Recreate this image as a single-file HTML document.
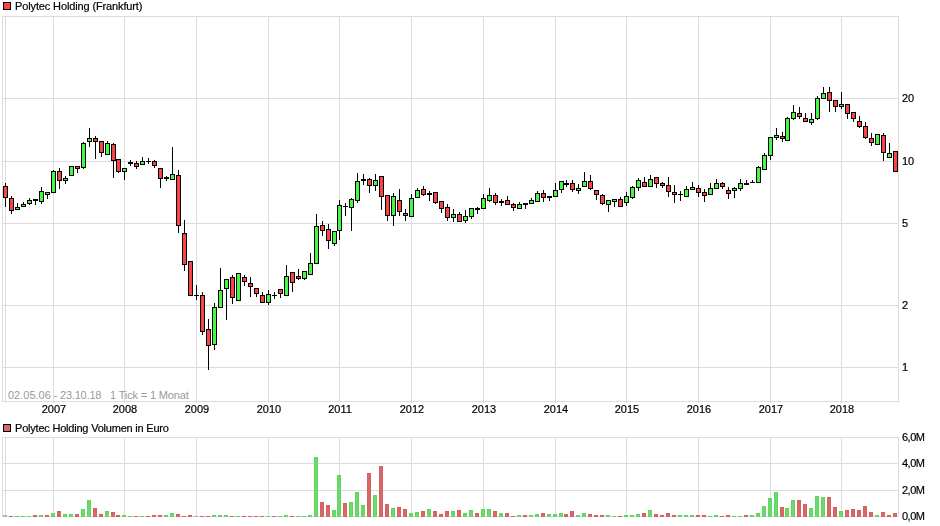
<!DOCTYPE html>
<html><head><meta charset="utf-8"><style>
html,body{margin:0;padding:0;background:#fff;}
body{width:940px;height:526px;position:relative;overflow:hidden;font-family:"Liberation Sans",Arial,sans-serif;}
svg{position:absolute;left:0;top:0;shape-rendering:crispEdges;}
.t{position:absolute;font-size:11px;line-height:13px;color:#000;white-space:pre;}
.yl{position:absolute;left:902px;font-size:11px;line-height:13px;color:#000;white-space:pre;}
.xl{position:absolute;top:403px;font-size:11px;line-height:13px;color:#000;white-space:pre;width:40px;text-align:center;}
.g,.yl,.xl{will-change:transform;-webkit-text-stroke:0.2px #000;}
.sq{position:absolute;width:6px;height:6px;border:1px solid #000;}
</style></head><body>
<svg width="940" height="526" viewBox="0 0 940 526">
<rect x="2" y="16" width="897" height="1" fill="#dcdcdc"/>
<rect x="2" y="401" width="897" height="1" fill="#dcdcdc"/>
<rect x="2" y="16" width="1" height="386" fill="#dcdcdc"/>
<rect x="898" y="16" width="1" height="386" fill="#dcdcdc"/>
<rect x="5" y="16" width="1" height="387" fill="#dcdcdc"/>
<rect x="53" y="16" width="1" height="387" fill="#dcdcdc"/>
<rect x="124" y="16" width="1" height="387" fill="#dcdcdc"/>
<rect x="196" y="16" width="1" height="387" fill="#dcdcdc"/>
<rect x="268" y="16" width="1" height="387" fill="#dcdcdc"/>
<rect x="339" y="16" width="1" height="387" fill="#dcdcdc"/>
<rect x="411" y="16" width="1" height="387" fill="#dcdcdc"/>
<rect x="483" y="16" width="1" height="387" fill="#dcdcdc"/>
<rect x="555" y="16" width="1" height="387" fill="#dcdcdc"/>
<rect x="626" y="16" width="1" height="387" fill="#dcdcdc"/>
<rect x="698" y="16" width="1" height="387" fill="#dcdcdc"/>
<rect x="770" y="16" width="1" height="387" fill="#dcdcdc"/>
<rect x="841" y="16" width="1" height="387" fill="#dcdcdc"/>
<rect x="2" y="98" width="897" height="1" fill="#dcdcdc"/>
<rect x="2" y="161" width="897" height="1" fill="#dcdcdc"/>
<rect x="2" y="223" width="897" height="1" fill="#dcdcdc"/>
<rect x="2" y="305" width="897" height="1" fill="#dcdcdc"/>
<rect x="2" y="367" width="897" height="1" fill="#dcdcdc"/>
<rect x="2" y="437" width="897" height="1" fill="#dcdcdc"/>
<rect x="2" y="516" width="897" height="1" fill="#dcdcdc"/>
<rect x="2" y="437" width="1" height="80" fill="#dcdcdc"/>
<rect x="898" y="437" width="1" height="80" fill="#dcdcdc"/>
<rect x="5" y="437" width="1" height="80" fill="#dcdcdc"/>
<rect x="53" y="437" width="1" height="80" fill="#dcdcdc"/>
<rect x="124" y="437" width="1" height="80" fill="#dcdcdc"/>
<rect x="196" y="437" width="1" height="80" fill="#dcdcdc"/>
<rect x="268" y="437" width="1" height="80" fill="#dcdcdc"/>
<rect x="339" y="437" width="1" height="80" fill="#dcdcdc"/>
<rect x="411" y="437" width="1" height="80" fill="#dcdcdc"/>
<rect x="483" y="437" width="1" height="80" fill="#dcdcdc"/>
<rect x="555" y="437" width="1" height="80" fill="#dcdcdc"/>
<rect x="626" y="437" width="1" height="80" fill="#dcdcdc"/>
<rect x="698" y="437" width="1" height="80" fill="#dcdcdc"/>
<rect x="770" y="437" width="1" height="80" fill="#dcdcdc"/>
<rect x="841" y="437" width="1" height="80" fill="#dcdcdc"/>
<rect x="2" y="463" width="897" height="1" fill="#dcdcdc"/>
<rect x="2" y="490" width="897" height="1" fill="#dcdcdc"/>
<rect x="5" y="183" width="1" height="3" fill="#000"/>
<rect x="5" y="198" width="1" height="9" fill="#000"/>
<rect x="3" y="186" width="5" height="12" fill="#000"/>
<rect x="4" y="187" width="3" height="10" fill="#f84444"/>
<rect x="11" y="196" width="1" height="2" fill="#000"/>
<rect x="11" y="211" width="1" height="3" fill="#000"/>
<rect x="9" y="198" width="5" height="13" fill="#000"/>
<rect x="10" y="199" width="3" height="11" fill="#f84444"/>
<rect x="17" y="203" width="1" height="4" fill="#000"/>
<rect x="15" y="207" width="5" height="3" fill="#000"/>
<rect x="16" y="208" width="3" height="1" fill="#44f844"/>
<rect x="23" y="202" width="1" height="2" fill="#000"/>
<rect x="21" y="204" width="5" height="3" fill="#000"/>
<rect x="22" y="205" width="3" height="1" fill="#44f844"/>
<rect x="29" y="198" width="1" height="2" fill="#000"/>
<rect x="29" y="204" width="1" height="1" fill="#000"/>
<rect x="27" y="200" width="5" height="4" fill="#000"/>
<rect x="28" y="201" width="3" height="2" fill="#44f844"/>
<rect x="35" y="201" width="1" height="4" fill="#000"/>
<rect x="33" y="199" width="5" height="2" fill="#000"/>
<rect x="41" y="187" width="1" height="4" fill="#000"/>
<rect x="41" y="202" width="1" height="2" fill="#000"/>
<rect x="39" y="191" width="5" height="11" fill="#000"/>
<rect x="40" y="192" width="3" height="9" fill="#44f844"/>
<rect x="47" y="195" width="1" height="4" fill="#000"/>
<rect x="45" y="192" width="5" height="3" fill="#000"/>
<rect x="46" y="193" width="3" height="1" fill="#44f844"/>
<rect x="53" y="170" width="1" height="1" fill="#000"/>
<rect x="51" y="171" width="5" height="22" fill="#000"/>
<rect x="52" y="172" width="3" height="20" fill="#44f844"/>
<rect x="59" y="168" width="1" height="3" fill="#000"/>
<rect x="59" y="181" width="1" height="8" fill="#000"/>
<rect x="57" y="171" width="5" height="10" fill="#000"/>
<rect x="58" y="172" width="3" height="8" fill="#f84444"/>
<rect x="65" y="176" width="1" height="2" fill="#000"/>
<rect x="65" y="181" width="1" height="3" fill="#000"/>
<rect x="63" y="178" width="5" height="3" fill="#000"/>
<rect x="64" y="179" width="3" height="1" fill="#44f844"/>
<rect x="69" y="166" width="5" height="10" fill="#000"/>
<rect x="70" y="167" width="3" height="8" fill="#44f844"/>
<rect x="77" y="169" width="1" height="4" fill="#000"/>
<rect x="75" y="166" width="5" height="3" fill="#000"/>
<rect x="76" y="167" width="3" height="1" fill="#f84444"/>
<rect x="83" y="142" width="1" height="1" fill="#000"/>
<rect x="83" y="168" width="1" height="1" fill="#000"/>
<rect x="81" y="143" width="5" height="25" fill="#000"/>
<rect x="82" y="144" width="3" height="23" fill="#44f844"/>
<rect x="89" y="128" width="1" height="10" fill="#000"/>
<rect x="89" y="142" width="1" height="5" fill="#000"/>
<rect x="87" y="138" width="5" height="4" fill="#000"/>
<rect x="88" y="139" width="3" height="2" fill="#44f844"/>
<rect x="95" y="136" width="1" height="2" fill="#000"/>
<rect x="95" y="142" width="1" height="17" fill="#000"/>
<rect x="93" y="138" width="5" height="4" fill="#000"/>
<rect x="94" y="139" width="3" height="2" fill="#f84444"/>
<rect x="101" y="153" width="1" height="4" fill="#000"/>
<rect x="99" y="141" width="5" height="12" fill="#000"/>
<rect x="100" y="142" width="3" height="10" fill="#f84444"/>
<rect x="107" y="141" width="1" height="2" fill="#000"/>
<rect x="105" y="143" width="5" height="12" fill="#000"/>
<rect x="106" y="144" width="3" height="10" fill="#44f844"/>
<rect x="113" y="143" width="1" height="1" fill="#000"/>
<rect x="113" y="161" width="1" height="17" fill="#000"/>
<rect x="111" y="144" width="5" height="17" fill="#000"/>
<rect x="112" y="145" width="3" height="15" fill="#f84444"/>
<rect x="118" y="172" width="1" height="1" fill="#000"/>
<rect x="116" y="159" width="5" height="13" fill="#000"/>
<rect x="117" y="160" width="3" height="11" fill="#f84444"/>
<rect x="124" y="172" width="1" height="8" fill="#000"/>
<rect x="122" y="168" width="5" height="4" fill="#000"/>
<rect x="123" y="169" width="3" height="2" fill="#44f844"/>
<rect x="130" y="160" width="1" height="2" fill="#000"/>
<rect x="130" y="164" width="1" height="2" fill="#000"/>
<rect x="128" y="162" width="5" height="2" fill="#000"/>
<rect x="136" y="161" width="1" height="2" fill="#000"/>
<rect x="136" y="167" width="1" height="2" fill="#000"/>
<rect x="134" y="163" width="5" height="4" fill="#000"/>
<rect x="135" y="164" width="3" height="2" fill="#f84444"/>
<rect x="142" y="157" width="1" height="4" fill="#000"/>
<rect x="140" y="161" width="5" height="4" fill="#000"/>
<rect x="141" y="162" width="3" height="2" fill="#44f844"/>
<rect x="148" y="158" width="1" height="3" fill="#000"/>
<rect x="148" y="162" width="1" height="2" fill="#000"/>
<rect x="146" y="161" width="5" height="1" fill="#000"/>
<rect x="154" y="160" width="1" height="1" fill="#000"/>
<rect x="154" y="166" width="1" height="2" fill="#000"/>
<rect x="152" y="161" width="5" height="5" fill="#000"/>
<rect x="153" y="162" width="3" height="3" fill="#f84444"/>
<rect x="160" y="179" width="1" height="9" fill="#000"/>
<rect x="158" y="168" width="5" height="11" fill="#000"/>
<rect x="159" y="169" width="3" height="9" fill="#f84444"/>
<rect x="166" y="176" width="1" height="1" fill="#000"/>
<rect x="166" y="179" width="1" height="2" fill="#000"/>
<rect x="164" y="177" width="5" height="2" fill="#000"/>
<rect x="172" y="147" width="1" height="27" fill="#000"/>
<rect x="170" y="174" width="5" height="6" fill="#000"/>
<rect x="171" y="175" width="3" height="4" fill="#44f844"/>
<rect x="178" y="170" width="1" height="5" fill="#000"/>
<rect x="178" y="226" width="1" height="7" fill="#000"/>
<rect x="176" y="175" width="5" height="51" fill="#000"/>
<rect x="177" y="176" width="3" height="49" fill="#f84444"/>
<rect x="184" y="220" width="1" height="13" fill="#000"/>
<rect x="184" y="265" width="1" height="6" fill="#000"/>
<rect x="182" y="233" width="5" height="32" fill="#000"/>
<rect x="183" y="234" width="3" height="30" fill="#f84444"/>
<rect x="188" y="261" width="5" height="35" fill="#000"/>
<rect x="189" y="262" width="3" height="33" fill="#f84444"/>
<rect x="196" y="285" width="1" height="10" fill="#000"/>
<rect x="196" y="296" width="1" height="4" fill="#000"/>
<rect x="194" y="295" width="5" height="1" fill="#000"/>
<rect x="202" y="292" width="1" height="3" fill="#000"/>
<rect x="202" y="332" width="1" height="3" fill="#000"/>
<rect x="200" y="295" width="5" height="37" fill="#000"/>
<rect x="201" y="296" width="3" height="35" fill="#f84444"/>
<rect x="208" y="319" width="1" height="10" fill="#000"/>
<rect x="208" y="346" width="1" height="24" fill="#000"/>
<rect x="206" y="329" width="5" height="17" fill="#000"/>
<rect x="207" y="330" width="3" height="15" fill="#f84444"/>
<rect x="214" y="303" width="1" height="4" fill="#000"/>
<rect x="214" y="345" width="1" height="5" fill="#000"/>
<rect x="212" y="307" width="5" height="38" fill="#000"/>
<rect x="213" y="308" width="3" height="36" fill="#44f844"/>
<rect x="220" y="268" width="1" height="22" fill="#000"/>
<rect x="218" y="290" width="5" height="18" fill="#000"/>
<rect x="219" y="291" width="3" height="16" fill="#44f844"/>
<rect x="226" y="289" width="1" height="31" fill="#000"/>
<rect x="224" y="279" width="5" height="10" fill="#000"/>
<rect x="225" y="280" width="3" height="8" fill="#44f844"/>
<rect x="232" y="275" width="1" height="2" fill="#000"/>
<rect x="232" y="298" width="1" height="6" fill="#000"/>
<rect x="230" y="277" width="5" height="21" fill="#000"/>
<rect x="231" y="278" width="3" height="19" fill="#f84444"/>
<rect x="236" y="273" width="5" height="28" fill="#000"/>
<rect x="237" y="274" width="3" height="26" fill="#44f844"/>
<rect x="244" y="275" width="1" height="2" fill="#000"/>
<rect x="244" y="282" width="1" height="4" fill="#000"/>
<rect x="242" y="277" width="5" height="5" fill="#000"/>
<rect x="243" y="278" width="3" height="3" fill="#f84444"/>
<rect x="250" y="277" width="1" height="6" fill="#000"/>
<rect x="250" y="287" width="1" height="10" fill="#000"/>
<rect x="248" y="283" width="5" height="4" fill="#000"/>
<rect x="249" y="284" width="3" height="2" fill="#f84444"/>
<rect x="256" y="294" width="1" height="3" fill="#000"/>
<rect x="254" y="288" width="5" height="6" fill="#000"/>
<rect x="255" y="289" width="3" height="4" fill="#f84444"/>
<rect x="262" y="292" width="1" height="3" fill="#000"/>
<rect x="260" y="295" width="5" height="8" fill="#000"/>
<rect x="261" y="296" width="3" height="6" fill="#f84444"/>
<rect x="268" y="290" width="1" height="4" fill="#000"/>
<rect x="268" y="303" width="1" height="2" fill="#000"/>
<rect x="266" y="294" width="5" height="9" fill="#000"/>
<rect x="267" y="295" width="3" height="7" fill="#44f844"/>
<rect x="274" y="292" width="1" height="3" fill="#000"/>
<rect x="274" y="296" width="1" height="3" fill="#000"/>
<rect x="272" y="295" width="5" height="1" fill="#000"/>
<rect x="280" y="294" width="1" height="4" fill="#000"/>
<rect x="278" y="289" width="5" height="5" fill="#000"/>
<rect x="279" y="290" width="3" height="3" fill="#f84444"/>
<rect x="286" y="265" width="1" height="11" fill="#000"/>
<rect x="284" y="276" width="5" height="20" fill="#000"/>
<rect x="285" y="277" width="3" height="18" fill="#44f844"/>
<rect x="292" y="283" width="1" height="9" fill="#000"/>
<rect x="290" y="272" width="5" height="11" fill="#000"/>
<rect x="291" y="273" width="3" height="9" fill="#f84444"/>
<rect x="298" y="269" width="1" height="7" fill="#000"/>
<rect x="298" y="279" width="1" height="1" fill="#000"/>
<rect x="296" y="276" width="5" height="3" fill="#000"/>
<rect x="297" y="277" width="3" height="1" fill="#f84444"/>
<rect x="304" y="279" width="1" height="1" fill="#000"/>
<rect x="302" y="271" width="5" height="8" fill="#000"/>
<rect x="303" y="272" width="3" height="6" fill="#44f844"/>
<rect x="310" y="253" width="1" height="10" fill="#000"/>
<rect x="308" y="263" width="5" height="12" fill="#000"/>
<rect x="309" y="264" width="3" height="10" fill="#44f844"/>
<rect x="316" y="214" width="1" height="12" fill="#000"/>
<rect x="314" y="226" width="5" height="38" fill="#000"/>
<rect x="315" y="227" width="3" height="36" fill="#44f844"/>
<rect x="322" y="221" width="1" height="4" fill="#000"/>
<rect x="322" y="231" width="1" height="5" fill="#000"/>
<rect x="320" y="225" width="5" height="6" fill="#000"/>
<rect x="321" y="226" width="3" height="4" fill="#f84444"/>
<rect x="328" y="224" width="1" height="5" fill="#000"/>
<rect x="328" y="241" width="1" height="8" fill="#000"/>
<rect x="326" y="229" width="5" height="12" fill="#000"/>
<rect x="327" y="230" width="3" height="10" fill="#f84444"/>
<rect x="334" y="244" width="1" height="2" fill="#000"/>
<rect x="332" y="231" width="5" height="13" fill="#000"/>
<rect x="333" y="232" width="3" height="11" fill="#44f844"/>
<rect x="339" y="200" width="1" height="5" fill="#000"/>
<rect x="339" y="231" width="1" height="9" fill="#000"/>
<rect x="337" y="205" width="5" height="26" fill="#000"/>
<rect x="338" y="206" width="3" height="24" fill="#44f844"/>
<rect x="345" y="203" width="1" height="3" fill="#000"/>
<rect x="345" y="207" width="1" height="9" fill="#000"/>
<rect x="343" y="206" width="5" height="1" fill="#000"/>
<rect x="351" y="198" width="1" height="1" fill="#000"/>
<rect x="351" y="208" width="1" height="23" fill="#000"/>
<rect x="349" y="199" width="5" height="9" fill="#000"/>
<rect x="350" y="200" width="3" height="7" fill="#44f844"/>
<rect x="357" y="173" width="1" height="8" fill="#000"/>
<rect x="357" y="201" width="1" height="2" fill="#000"/>
<rect x="355" y="181" width="5" height="20" fill="#000"/>
<rect x="356" y="182" width="3" height="18" fill="#44f844"/>
<rect x="363" y="174" width="1" height="5" fill="#000"/>
<rect x="363" y="181" width="1" height="4" fill="#000"/>
<rect x="361" y="179" width="5" height="2" fill="#000"/>
<rect x="369" y="178" width="1" height="1" fill="#000"/>
<rect x="369" y="186" width="1" height="7" fill="#000"/>
<rect x="367" y="179" width="5" height="7" fill="#000"/>
<rect x="368" y="180" width="3" height="5" fill="#f84444"/>
<rect x="375" y="174" width="1" height="6" fill="#000"/>
<rect x="375" y="186" width="1" height="5" fill="#000"/>
<rect x="373" y="180" width="5" height="6" fill="#000"/>
<rect x="374" y="181" width="3" height="4" fill="#44f844"/>
<rect x="381" y="197" width="1" height="13" fill="#000"/>
<rect x="379" y="176" width="5" height="21" fill="#000"/>
<rect x="380" y="177" width="3" height="19" fill="#f84444"/>
<rect x="387" y="216" width="1" height="5" fill="#000"/>
<rect x="385" y="195" width="5" height="21" fill="#000"/>
<rect x="386" y="196" width="3" height="19" fill="#f84444"/>
<rect x="393" y="193" width="1" height="3" fill="#000"/>
<rect x="393" y="216" width="1" height="10" fill="#000"/>
<rect x="391" y="196" width="5" height="20" fill="#000"/>
<rect x="392" y="197" width="3" height="18" fill="#44f844"/>
<rect x="399" y="189" width="1" height="11" fill="#000"/>
<rect x="399" y="212" width="1" height="4" fill="#000"/>
<rect x="397" y="200" width="5" height="12" fill="#000"/>
<rect x="398" y="201" width="3" height="10" fill="#f84444"/>
<rect x="405" y="209" width="1" height="4" fill="#000"/>
<rect x="405" y="216" width="1" height="5" fill="#000"/>
<rect x="403" y="213" width="5" height="3" fill="#000"/>
<rect x="404" y="214" width="3" height="1" fill="#f84444"/>
<rect x="411" y="194" width="1" height="4" fill="#000"/>
<rect x="409" y="198" width="5" height="19" fill="#000"/>
<rect x="410" y="199" width="3" height="17" fill="#44f844"/>
<rect x="417" y="188" width="1" height="2" fill="#000"/>
<rect x="415" y="190" width="5" height="8" fill="#000"/>
<rect x="416" y="191" width="3" height="6" fill="#44f844"/>
<rect x="423" y="186" width="1" height="3" fill="#000"/>
<rect x="423" y="195" width="1" height="1" fill="#000"/>
<rect x="421" y="189" width="5" height="6" fill="#000"/>
<rect x="422" y="190" width="3" height="4" fill="#f84444"/>
<rect x="429" y="191" width="1" height="2" fill="#000"/>
<rect x="429" y="195" width="1" height="6" fill="#000"/>
<rect x="427" y="193" width="5" height="2" fill="#000"/>
<rect x="435" y="203" width="1" height="1" fill="#000"/>
<rect x="433" y="192" width="5" height="11" fill="#000"/>
<rect x="434" y="193" width="3" height="9" fill="#f84444"/>
<rect x="441" y="209" width="1" height="4" fill="#000"/>
<rect x="439" y="201" width="5" height="8" fill="#000"/>
<rect x="440" y="202" width="3" height="6" fill="#f84444"/>
<rect x="447" y="204" width="1" height="3" fill="#000"/>
<rect x="447" y="218" width="1" height="3" fill="#000"/>
<rect x="445" y="207" width="5" height="11" fill="#000"/>
<rect x="446" y="208" width="3" height="9" fill="#f84444"/>
<rect x="453" y="209" width="1" height="5" fill="#000"/>
<rect x="453" y="218" width="1" height="4" fill="#000"/>
<rect x="451" y="214" width="5" height="4" fill="#000"/>
<rect x="452" y="215" width="3" height="2" fill="#44f844"/>
<rect x="459" y="212" width="1" height="2" fill="#000"/>
<rect x="457" y="214" width="5" height="8" fill="#000"/>
<rect x="458" y="215" width="3" height="6" fill="#f84444"/>
<rect x="465" y="210" width="1" height="6" fill="#000"/>
<rect x="465" y="221" width="1" height="2" fill="#000"/>
<rect x="463" y="216" width="5" height="5" fill="#000"/>
<rect x="464" y="217" width="3" height="3" fill="#44f844"/>
<rect x="471" y="217" width="1" height="2" fill="#000"/>
<rect x="469" y="208" width="5" height="9" fill="#000"/>
<rect x="470" y="209" width="3" height="7" fill="#44f844"/>
<rect x="477" y="207" width="1" height="1" fill="#000"/>
<rect x="477" y="210" width="1" height="4" fill="#000"/>
<rect x="475" y="208" width="5" height="2" fill="#000"/>
<rect x="483" y="194" width="1" height="4" fill="#000"/>
<rect x="481" y="198" width="5" height="11" fill="#000"/>
<rect x="482" y="199" width="3" height="9" fill="#44f844"/>
<rect x="489" y="188" width="1" height="7" fill="#000"/>
<rect x="489" y="201" width="1" height="1" fill="#000"/>
<rect x="487" y="195" width="5" height="6" fill="#000"/>
<rect x="488" y="196" width="3" height="4" fill="#44f844"/>
<rect x="495" y="193" width="1" height="2" fill="#000"/>
<rect x="495" y="203" width="1" height="2" fill="#000"/>
<rect x="493" y="195" width="5" height="8" fill="#000"/>
<rect x="494" y="196" width="3" height="6" fill="#f84444"/>
<rect x="501" y="199" width="1" height="2" fill="#000"/>
<rect x="501" y="203" width="1" height="3" fill="#000"/>
<rect x="499" y="201" width="5" height="2" fill="#000"/>
<rect x="507" y="196" width="1" height="4" fill="#000"/>
<rect x="505" y="200" width="5" height="5" fill="#000"/>
<rect x="506" y="201" width="3" height="3" fill="#f84444"/>
<rect x="513" y="203" width="1" height="1" fill="#000"/>
<rect x="513" y="208" width="1" height="3" fill="#000"/>
<rect x="511" y="204" width="5" height="4" fill="#000"/>
<rect x="512" y="205" width="3" height="2" fill="#f84444"/>
<rect x="519" y="202" width="1" height="2" fill="#000"/>
<rect x="517" y="204" width="5" height="5" fill="#000"/>
<rect x="518" y="205" width="3" height="3" fill="#44f844"/>
<rect x="525" y="205" width="1" height="4" fill="#000"/>
<rect x="523" y="203" width="5" height="2" fill="#000"/>
<rect x="531" y="198" width="1" height="2" fill="#000"/>
<rect x="529" y="200" width="5" height="4" fill="#000"/>
<rect x="530" y="201" width="3" height="2" fill="#44f844"/>
<rect x="537" y="191" width="1" height="2" fill="#000"/>
<rect x="535" y="193" width="5" height="9" fill="#000"/>
<rect x="536" y="194" width="3" height="7" fill="#44f844"/>
<rect x="543" y="190" width="1" height="3" fill="#000"/>
<rect x="543" y="198" width="1" height="4" fill="#000"/>
<rect x="541" y="193" width="5" height="5" fill="#000"/>
<rect x="542" y="194" width="3" height="3" fill="#f84444"/>
<rect x="549" y="198" width="1" height="3" fill="#000"/>
<rect x="547" y="196" width="5" height="2" fill="#000"/>
<rect x="555" y="183" width="1" height="7" fill="#000"/>
<rect x="553" y="190" width="5" height="7" fill="#000"/>
<rect x="554" y="191" width="3" height="5" fill="#44f844"/>
<rect x="561" y="190" width="1" height="3" fill="#000"/>
<rect x="559" y="181" width="5" height="9" fill="#000"/>
<rect x="560" y="182" width="3" height="7" fill="#44f844"/>
<rect x="566" y="180" width="1" height="3" fill="#000"/>
<rect x="566" y="185" width="1" height="2" fill="#000"/>
<rect x="564" y="183" width="5" height="2" fill="#000"/>
<rect x="572" y="180" width="1" height="3" fill="#000"/>
<rect x="572" y="190" width="1" height="2" fill="#000"/>
<rect x="570" y="183" width="5" height="7" fill="#000"/>
<rect x="571" y="184" width="3" height="5" fill="#f84444"/>
<rect x="578" y="184" width="1" height="4" fill="#000"/>
<rect x="578" y="191" width="1" height="3" fill="#000"/>
<rect x="576" y="188" width="5" height="3" fill="#000"/>
<rect x="577" y="189" width="3" height="1" fill="#44f844"/>
<rect x="584" y="172" width="1" height="9" fill="#000"/>
<rect x="582" y="181" width="5" height="6" fill="#000"/>
<rect x="583" y="182" width="3" height="4" fill="#44f844"/>
<rect x="590" y="175" width="1" height="6" fill="#000"/>
<rect x="590" y="189" width="1" height="1" fill="#000"/>
<rect x="588" y="181" width="5" height="8" fill="#000"/>
<rect x="589" y="182" width="3" height="6" fill="#f84444"/>
<rect x="596" y="195" width="1" height="5" fill="#000"/>
<rect x="594" y="190" width="5" height="5" fill="#000"/>
<rect x="595" y="191" width="3" height="3" fill="#f84444"/>
<rect x="602" y="194" width="1" height="1" fill="#000"/>
<rect x="602" y="204" width="1" height="1" fill="#000"/>
<rect x="600" y="195" width="5" height="9" fill="#000"/>
<rect x="601" y="196" width="3" height="7" fill="#f84444"/>
<rect x="608" y="205" width="1" height="7" fill="#000"/>
<rect x="606" y="200" width="5" height="5" fill="#000"/>
<rect x="607" y="201" width="3" height="3" fill="#44f844"/>
<rect x="614" y="202" width="1" height="5" fill="#000"/>
<rect x="612" y="199" width="5" height="3" fill="#000"/>
<rect x="613" y="200" width="3" height="1" fill="#44f844"/>
<rect x="620" y="197" width="1" height="2" fill="#000"/>
<rect x="618" y="199" width="5" height="8" fill="#000"/>
<rect x="619" y="200" width="3" height="6" fill="#f84444"/>
<rect x="626" y="192" width="1" height="4" fill="#000"/>
<rect x="626" y="203" width="1" height="3" fill="#000"/>
<rect x="624" y="196" width="5" height="7" fill="#000"/>
<rect x="625" y="197" width="3" height="5" fill="#44f844"/>
<rect x="632" y="186" width="1" height="1" fill="#000"/>
<rect x="632" y="198" width="1" height="1" fill="#000"/>
<rect x="630" y="187" width="5" height="11" fill="#000"/>
<rect x="631" y="188" width="3" height="9" fill="#44f844"/>
<rect x="638" y="178" width="1" height="2" fill="#000"/>
<rect x="638" y="188" width="1" height="3" fill="#000"/>
<rect x="636" y="180" width="5" height="8" fill="#000"/>
<rect x="637" y="181" width="3" height="6" fill="#44f844"/>
<rect x="644" y="177" width="1" height="5" fill="#000"/>
<rect x="642" y="182" width="5" height="5" fill="#000"/>
<rect x="643" y="183" width="3" height="3" fill="#f84444"/>
<rect x="650" y="175" width="1" height="4" fill="#000"/>
<rect x="648" y="179" width="5" height="8" fill="#000"/>
<rect x="649" y="180" width="3" height="6" fill="#44f844"/>
<rect x="656" y="184" width="1" height="4" fill="#000"/>
<rect x="654" y="177" width="5" height="7" fill="#000"/>
<rect x="655" y="178" width="3" height="5" fill="#f84444"/>
<rect x="662" y="182" width="1" height="1" fill="#000"/>
<rect x="662" y="186" width="1" height="2" fill="#000"/>
<rect x="660" y="183" width="5" height="3" fill="#000"/>
<rect x="661" y="184" width="3" height="1" fill="#f84444"/>
<rect x="668" y="177" width="1" height="8" fill="#000"/>
<rect x="668" y="192" width="1" height="5" fill="#000"/>
<rect x="666" y="185" width="5" height="7" fill="#000"/>
<rect x="667" y="186" width="3" height="5" fill="#f84444"/>
<rect x="674" y="185" width="1" height="7" fill="#000"/>
<rect x="674" y="195" width="1" height="8" fill="#000"/>
<rect x="672" y="192" width="5" height="3" fill="#000"/>
<rect x="673" y="193" width="3" height="1" fill="#f84444"/>
<rect x="680" y="191" width="1" height="3" fill="#000"/>
<rect x="680" y="195" width="1" height="6" fill="#000"/>
<rect x="678" y="194" width="5" height="1" fill="#000"/>
<rect x="686" y="186" width="1" height="3" fill="#000"/>
<rect x="684" y="189" width="5" height="8" fill="#000"/>
<rect x="685" y="190" width="3" height="6" fill="#44f844"/>
<rect x="692" y="182" width="1" height="5" fill="#000"/>
<rect x="690" y="187" width="5" height="3" fill="#000"/>
<rect x="691" y="188" width="3" height="1" fill="#44f844"/>
<rect x="698" y="185" width="1" height="3" fill="#000"/>
<rect x="698" y="193" width="1" height="4" fill="#000"/>
<rect x="696" y="188" width="5" height="5" fill="#000"/>
<rect x="697" y="189" width="3" height="3" fill="#f84444"/>
<rect x="704" y="189" width="1" height="3" fill="#000"/>
<rect x="704" y="196" width="1" height="6" fill="#000"/>
<rect x="702" y="192" width="5" height="4" fill="#000"/>
<rect x="703" y="193" width="3" height="2" fill="#f84444"/>
<rect x="710" y="183" width="1" height="5" fill="#000"/>
<rect x="708" y="188" width="5" height="7" fill="#000"/>
<rect x="709" y="189" width="3" height="5" fill="#44f844"/>
<rect x="716" y="179" width="1" height="4" fill="#000"/>
<rect x="714" y="183" width="5" height="6" fill="#000"/>
<rect x="715" y="184" width="3" height="4" fill="#44f844"/>
<rect x="722" y="182" width="1" height="1" fill="#000"/>
<rect x="722" y="187" width="1" height="2" fill="#000"/>
<rect x="720" y="183" width="5" height="4" fill="#000"/>
<rect x="721" y="184" width="3" height="2" fill="#f84444"/>
<rect x="728" y="187" width="1" height="3" fill="#000"/>
<rect x="728" y="194" width="1" height="5" fill="#000"/>
<rect x="726" y="190" width="5" height="4" fill="#000"/>
<rect x="727" y="191" width="3" height="2" fill="#f84444"/>
<rect x="734" y="187" width="1" height="1" fill="#000"/>
<rect x="734" y="191" width="1" height="7" fill="#000"/>
<rect x="732" y="188" width="5" height="3" fill="#000"/>
<rect x="733" y="189" width="3" height="1" fill="#44f844"/>
<rect x="740" y="179" width="1" height="4" fill="#000"/>
<rect x="740" y="189" width="1" height="2" fill="#000"/>
<rect x="738" y="183" width="5" height="6" fill="#000"/>
<rect x="739" y="184" width="3" height="4" fill="#44f844"/>
<rect x="746" y="180" width="1" height="3" fill="#000"/>
<rect x="744" y="183" width="5" height="2" fill="#000"/>
<rect x="752" y="180" width="1" height="2" fill="#000"/>
<rect x="750" y="182" width="5" height="1" fill="#000"/>
<rect x="758" y="166" width="1" height="1" fill="#000"/>
<rect x="756" y="167" width="5" height="16" fill="#000"/>
<rect x="757" y="168" width="3" height="14" fill="#44f844"/>
<rect x="764" y="153" width="1" height="2" fill="#000"/>
<rect x="762" y="155" width="5" height="15" fill="#000"/>
<rect x="763" y="156" width="3" height="13" fill="#44f844"/>
<rect x="770" y="156" width="1" height="4" fill="#000"/>
<rect x="768" y="137" width="5" height="19" fill="#000"/>
<rect x="769" y="138" width="3" height="17" fill="#44f844"/>
<rect x="776" y="128" width="1" height="7" fill="#000"/>
<rect x="776" y="138" width="1" height="2" fill="#000"/>
<rect x="774" y="135" width="5" height="3" fill="#000"/>
<rect x="775" y="136" width="3" height="1" fill="#44f844"/>
<rect x="782" y="132" width="1" height="4" fill="#000"/>
<rect x="782" y="139" width="1" height="3" fill="#000"/>
<rect x="780" y="136" width="5" height="3" fill="#000"/>
<rect x="781" y="137" width="3" height="1" fill="#f84444"/>
<rect x="787" y="117" width="1" height="1" fill="#000"/>
<rect x="785" y="118" width="5" height="23" fill="#000"/>
<rect x="786" y="119" width="3" height="21" fill="#44f844"/>
<rect x="793" y="105" width="1" height="7" fill="#000"/>
<rect x="793" y="119" width="1" height="1" fill="#000"/>
<rect x="791" y="112" width="5" height="7" fill="#000"/>
<rect x="792" y="113" width="3" height="5" fill="#44f844"/>
<rect x="799" y="107" width="1" height="6" fill="#000"/>
<rect x="799" y="117" width="1" height="2" fill="#000"/>
<rect x="797" y="113" width="5" height="4" fill="#000"/>
<rect x="798" y="114" width="3" height="2" fill="#f84444"/>
<rect x="805" y="113" width="1" height="5" fill="#000"/>
<rect x="803" y="118" width="5" height="4" fill="#000"/>
<rect x="804" y="119" width="3" height="2" fill="#f84444"/>
<rect x="811" y="113" width="1" height="6" fill="#000"/>
<rect x="811" y="123" width="1" height="2" fill="#000"/>
<rect x="809" y="119" width="5" height="4" fill="#000"/>
<rect x="810" y="120" width="3" height="2" fill="#44f844"/>
<rect x="817" y="96" width="1" height="2" fill="#000"/>
<rect x="817" y="119" width="1" height="1" fill="#000"/>
<rect x="815" y="98" width="5" height="21" fill="#000"/>
<rect x="816" y="99" width="3" height="19" fill="#44f844"/>
<rect x="823" y="87" width="1" height="6" fill="#000"/>
<rect x="821" y="93" width="5" height="6" fill="#000"/>
<rect x="822" y="94" width="3" height="4" fill="#44f844"/>
<rect x="829" y="87" width="1" height="5" fill="#000"/>
<rect x="829" y="101" width="1" height="11" fill="#000"/>
<rect x="827" y="92" width="5" height="9" fill="#000"/>
<rect x="828" y="93" width="3" height="7" fill="#f84444"/>
<rect x="835" y="107" width="1" height="5" fill="#000"/>
<rect x="833" y="100" width="5" height="7" fill="#000"/>
<rect x="834" y="101" width="3" height="5" fill="#f84444"/>
<rect x="841" y="92" width="1" height="12" fill="#000"/>
<rect x="841" y="107" width="1" height="2" fill="#000"/>
<rect x="839" y="104" width="5" height="3" fill="#000"/>
<rect x="840" y="105" width="3" height="1" fill="#44f844"/>
<rect x="847" y="114" width="1" height="5" fill="#000"/>
<rect x="845" y="104" width="5" height="10" fill="#000"/>
<rect x="846" y="105" width="3" height="8" fill="#f84444"/>
<rect x="853" y="119" width="1" height="3" fill="#000"/>
<rect x="851" y="112" width="5" height="7" fill="#000"/>
<rect x="852" y="113" width="3" height="5" fill="#f84444"/>
<rect x="859" y="116" width="1" height="5" fill="#000"/>
<rect x="859" y="127" width="1" height="1" fill="#000"/>
<rect x="857" y="121" width="5" height="6" fill="#000"/>
<rect x="858" y="122" width="3" height="4" fill="#f84444"/>
<rect x="865" y="122" width="1" height="4" fill="#000"/>
<rect x="865" y="138" width="1" height="1" fill="#000"/>
<rect x="863" y="126" width="5" height="12" fill="#000"/>
<rect x="864" y="127" width="3" height="10" fill="#f84444"/>
<rect x="871" y="133" width="1" height="5" fill="#000"/>
<rect x="871" y="143" width="1" height="3" fill="#000"/>
<rect x="869" y="138" width="5" height="5" fill="#000"/>
<rect x="870" y="139" width="3" height="3" fill="#f84444"/>
<rect x="875" y="134" width="5" height="11" fill="#000"/>
<rect x="876" y="135" width="3" height="9" fill="#44f844"/>
<rect x="883" y="133" width="1" height="2" fill="#000"/>
<rect x="883" y="153" width="1" height="8" fill="#000"/>
<rect x="881" y="135" width="5" height="18" fill="#000"/>
<rect x="882" y="136" width="3" height="16" fill="#f84444"/>
<rect x="889" y="143" width="1" height="10" fill="#000"/>
<rect x="887" y="153" width="5" height="5" fill="#000"/>
<rect x="888" y="154" width="3" height="3" fill="#44f844"/>
<rect x="893" y="151" width="5" height="21" fill="#000"/>
<rect x="894" y="152" width="3" height="19" fill="#f84444"/>
<rect x="3" y="515" width="4" height="2" fill="#b2b2b2"/>
<rect x="4" y="516" width="2" height="1" fill="#bcbcbc"/>
<rect x="9" y="516" width="4" height="1" fill="#d56060"/>
<rect x="15" y="516" width="4" height="1" fill="#60d660"/>
<rect x="21" y="516" width="4" height="1" fill="#60d660"/>
<rect x="27" y="516" width="4" height="1" fill="#60d660"/>
<rect x="33" y="515" width="4" height="2" fill="#d56060"/>
<rect x="34" y="516" width="2" height="1" fill="#d96767"/>
<rect x="39" y="515" width="4" height="2" fill="#60d660"/>
<rect x="40" y="516" width="2" height="1" fill="#6ada6a"/>
<rect x="45" y="515" width="4" height="2" fill="#d56060"/>
<rect x="46" y="516" width="2" height="1" fill="#d96767"/>
<rect x="51" y="513" width="4" height="4" fill="#60d660"/>
<rect x="52" y="514" width="2" height="3" fill="#6ada6a"/>
<rect x="57" y="511" width="4" height="6" fill="#d56060"/>
<rect x="58" y="512" width="2" height="5" fill="#d96767"/>
<rect x="63" y="514" width="4" height="3" fill="#60d660"/>
<rect x="64" y="515" width="2" height="2" fill="#6ada6a"/>
<rect x="69" y="514" width="4" height="3" fill="#60d660"/>
<rect x="70" y="515" width="2" height="2" fill="#6ada6a"/>
<rect x="75" y="514" width="4" height="3" fill="#d56060"/>
<rect x="76" y="515" width="2" height="2" fill="#d96767"/>
<rect x="81" y="509" width="4" height="8" fill="#60d660"/>
<rect x="82" y="510" width="2" height="7" fill="#6ada6a"/>
<rect x="87" y="500" width="4" height="17" fill="#60d660"/>
<rect x="88" y="501" width="2" height="16" fill="#6ada6a"/>
<rect x="93" y="508" width="4" height="9" fill="#d56060"/>
<rect x="94" y="509" width="2" height="8" fill="#d96767"/>
<rect x="99" y="514" width="4" height="3" fill="#d56060"/>
<rect x="100" y="515" width="2" height="2" fill="#d96767"/>
<rect x="105" y="511" width="4" height="6" fill="#60d660"/>
<rect x="106" y="512" width="2" height="5" fill="#6ada6a"/>
<rect x="111" y="512" width="4" height="5" fill="#d56060"/>
<rect x="112" y="513" width="2" height="4" fill="#d96767"/>
<rect x="116" y="515" width="4" height="2" fill="#d56060"/>
<rect x="117" y="516" width="2" height="1" fill="#d96767"/>
<rect x="122" y="515" width="4" height="2" fill="#60d660"/>
<rect x="123" y="516" width="2" height="1" fill="#6ada6a"/>
<rect x="128" y="516" width="4" height="1" fill="#60d660"/>
<rect x="134" y="516" width="4" height="1" fill="#d56060"/>
<rect x="140" y="516" width="4" height="1" fill="#60d660"/>
<rect x="146" y="516" width="4" height="1" fill="#d56060"/>
<rect x="152" y="515" width="4" height="2" fill="#d56060"/>
<rect x="153" y="516" width="2" height="1" fill="#d96767"/>
<rect x="158" y="515" width="4" height="2" fill="#d56060"/>
<rect x="159" y="516" width="2" height="1" fill="#d96767"/>
<rect x="164" y="515" width="4" height="2" fill="#60d660"/>
<rect x="165" y="516" width="2" height="1" fill="#6ada6a"/>
<rect x="170" y="513" width="4" height="4" fill="#60d660"/>
<rect x="171" y="514" width="2" height="3" fill="#6ada6a"/>
<rect x="176" y="514" width="4" height="3" fill="#d56060"/>
<rect x="177" y="515" width="2" height="2" fill="#d96767"/>
<rect x="182" y="516" width="4" height="1" fill="#d56060"/>
<rect x="188" y="515" width="4" height="2" fill="#d56060"/>
<rect x="189" y="516" width="2" height="1" fill="#d96767"/>
<rect x="194" y="516" width="4" height="1" fill="#b2b2b2"/>
<rect x="200" y="516" width="4" height="1" fill="#d56060"/>
<rect x="206" y="516" width="4" height="1" fill="#d56060"/>
<rect x="212" y="515" width="4" height="2" fill="#60d660"/>
<rect x="213" y="516" width="2" height="1" fill="#6ada6a"/>
<rect x="218" y="515" width="4" height="2" fill="#60d660"/>
<rect x="219" y="516" width="2" height="1" fill="#6ada6a"/>
<rect x="224" y="515" width="4" height="2" fill="#60d660"/>
<rect x="225" y="516" width="2" height="1" fill="#6ada6a"/>
<rect x="230" y="516" width="4" height="1" fill="#d56060"/>
<rect x="236" y="516" width="4" height="1" fill="#60d660"/>
<rect x="242" y="516" width="4" height="1" fill="#d56060"/>
<rect x="248" y="516" width="4" height="1" fill="#d56060"/>
<rect x="254" y="516" width="4" height="1" fill="#d56060"/>
<rect x="260" y="516" width="4" height="1" fill="#d56060"/>
<rect x="266" y="516" width="4" height="1" fill="#60d660"/>
<rect x="272" y="516" width="4" height="1" fill="#d56060"/>
<rect x="278" y="516" width="4" height="1" fill="#60d660"/>
<rect x="284" y="515" width="4" height="2" fill="#60d660"/>
<rect x="285" y="516" width="2" height="1" fill="#6ada6a"/>
<rect x="290" y="516" width="4" height="1" fill="#d56060"/>
<rect x="296" y="516" width="4" height="1" fill="#60d660"/>
<rect x="302" y="516" width="4" height="1" fill="#60d660"/>
<rect x="308" y="515" width="4" height="2" fill="#60d660"/>
<rect x="309" y="516" width="2" height="1" fill="#6ada6a"/>
<rect x="314" y="457" width="4" height="60" fill="#60d660"/>
<rect x="315" y="458" width="2" height="59" fill="#6ada6a"/>
<rect x="320" y="502" width="4" height="15" fill="#d56060"/>
<rect x="321" y="503" width="2" height="14" fill="#d96767"/>
<rect x="326" y="505" width="4" height="12" fill="#d56060"/>
<rect x="327" y="506" width="2" height="11" fill="#d96767"/>
<rect x="332" y="510" width="4" height="7" fill="#60d660"/>
<rect x="333" y="511" width="2" height="6" fill="#6ada6a"/>
<rect x="337" y="475" width="4" height="42" fill="#60d660"/>
<rect x="338" y="476" width="2" height="41" fill="#6ada6a"/>
<rect x="343" y="503" width="4" height="14" fill="#d56060"/>
<rect x="344" y="504" width="2" height="13" fill="#d96767"/>
<rect x="349" y="502" width="4" height="15" fill="#60d660"/>
<rect x="350" y="503" width="2" height="14" fill="#6ada6a"/>
<rect x="355" y="492" width="4" height="25" fill="#60d660"/>
<rect x="356" y="493" width="2" height="24" fill="#6ada6a"/>
<rect x="361" y="505" width="4" height="12" fill="#60d660"/>
<rect x="362" y="506" width="2" height="11" fill="#6ada6a"/>
<rect x="367" y="473" width="4" height="44" fill="#d56060"/>
<rect x="368" y="474" width="2" height="43" fill="#d96767"/>
<rect x="373" y="495" width="4" height="22" fill="#60d660"/>
<rect x="374" y="496" width="2" height="21" fill="#6ada6a"/>
<rect x="379" y="466" width="4" height="51" fill="#d56060"/>
<rect x="380" y="467" width="2" height="50" fill="#d96767"/>
<rect x="385" y="504" width="4" height="13" fill="#d56060"/>
<rect x="386" y="505" width="2" height="12" fill="#d96767"/>
<rect x="391" y="508" width="4" height="9" fill="#60d660"/>
<rect x="392" y="509" width="2" height="8" fill="#6ada6a"/>
<rect x="397" y="507" width="4" height="10" fill="#d56060"/>
<rect x="398" y="508" width="2" height="9" fill="#d96767"/>
<rect x="403" y="509" width="4" height="8" fill="#d56060"/>
<rect x="404" y="510" width="2" height="7" fill="#d96767"/>
<rect x="409" y="513" width="4" height="4" fill="#60d660"/>
<rect x="410" y="514" width="2" height="3" fill="#6ada6a"/>
<rect x="415" y="512" width="4" height="5" fill="#60d660"/>
<rect x="416" y="513" width="2" height="4" fill="#6ada6a"/>
<rect x="421" y="511" width="4" height="6" fill="#d56060"/>
<rect x="422" y="512" width="2" height="5" fill="#d96767"/>
<rect x="427" y="509" width="4" height="8" fill="#60d660"/>
<rect x="428" y="510" width="2" height="7" fill="#6ada6a"/>
<rect x="433" y="511" width="4" height="6" fill="#d56060"/>
<rect x="434" y="512" width="2" height="5" fill="#d96767"/>
<rect x="439" y="514" width="4" height="3" fill="#d56060"/>
<rect x="440" y="515" width="2" height="2" fill="#d96767"/>
<rect x="445" y="511" width="4" height="6" fill="#d56060"/>
<rect x="446" y="512" width="2" height="5" fill="#d96767"/>
<rect x="451" y="511" width="4" height="6" fill="#60d660"/>
<rect x="452" y="512" width="2" height="5" fill="#6ada6a"/>
<rect x="457" y="510" width="4" height="7" fill="#d56060"/>
<rect x="458" y="511" width="2" height="6" fill="#d96767"/>
<rect x="463" y="513" width="4" height="4" fill="#60d660"/>
<rect x="464" y="514" width="2" height="3" fill="#6ada6a"/>
<rect x="469" y="510" width="4" height="7" fill="#60d660"/>
<rect x="470" y="511" width="2" height="6" fill="#6ada6a"/>
<rect x="475" y="513" width="4" height="4" fill="#d56060"/>
<rect x="476" y="514" width="2" height="3" fill="#d96767"/>
<rect x="481" y="509" width="4" height="8" fill="#60d660"/>
<rect x="482" y="510" width="2" height="7" fill="#6ada6a"/>
<rect x="487" y="509" width="4" height="8" fill="#60d660"/>
<rect x="488" y="510" width="2" height="7" fill="#6ada6a"/>
<rect x="493" y="511" width="4" height="6" fill="#d56060"/>
<rect x="494" y="512" width="2" height="5" fill="#d96767"/>
<rect x="499" y="513" width="4" height="4" fill="#60d660"/>
<rect x="500" y="514" width="2" height="3" fill="#6ada6a"/>
<rect x="505" y="513" width="4" height="4" fill="#d56060"/>
<rect x="506" y="514" width="2" height="3" fill="#d96767"/>
<rect x="511" y="516" width="4" height="1" fill="#d56060"/>
<rect x="517" y="515" width="4" height="2" fill="#60d660"/>
<rect x="518" y="516" width="2" height="1" fill="#6ada6a"/>
<rect x="523" y="515" width="4" height="2" fill="#d56060"/>
<rect x="524" y="516" width="2" height="1" fill="#d96767"/>
<rect x="529" y="515" width="4" height="2" fill="#60d660"/>
<rect x="530" y="516" width="2" height="1" fill="#6ada6a"/>
<rect x="535" y="514" width="4" height="3" fill="#60d660"/>
<rect x="536" y="515" width="2" height="2" fill="#6ada6a"/>
<rect x="541" y="513" width="4" height="4" fill="#d56060"/>
<rect x="542" y="514" width="2" height="3" fill="#d96767"/>
<rect x="547" y="514" width="4" height="3" fill="#60d660"/>
<rect x="548" y="515" width="2" height="2" fill="#6ada6a"/>
<rect x="553" y="514" width="4" height="3" fill="#60d660"/>
<rect x="554" y="515" width="2" height="2" fill="#6ada6a"/>
<rect x="559" y="513" width="4" height="4" fill="#60d660"/>
<rect x="560" y="514" width="2" height="3" fill="#6ada6a"/>
<rect x="564" y="514" width="4" height="3" fill="#d56060"/>
<rect x="565" y="515" width="2" height="2" fill="#d96767"/>
<rect x="570" y="511" width="4" height="6" fill="#d56060"/>
<rect x="571" y="512" width="2" height="5" fill="#d96767"/>
<rect x="576" y="515" width="4" height="2" fill="#60d660"/>
<rect x="577" y="516" width="2" height="1" fill="#6ada6a"/>
<rect x="582" y="513" width="4" height="4" fill="#60d660"/>
<rect x="583" y="514" width="2" height="3" fill="#6ada6a"/>
<rect x="588" y="514" width="4" height="3" fill="#d56060"/>
<rect x="589" y="515" width="2" height="2" fill="#d96767"/>
<rect x="594" y="515" width="4" height="2" fill="#d56060"/>
<rect x="595" y="516" width="2" height="1" fill="#d96767"/>
<rect x="600" y="515" width="4" height="2" fill="#d56060"/>
<rect x="601" y="516" width="2" height="1" fill="#d96767"/>
<rect x="606" y="515" width="4" height="2" fill="#60d660"/>
<rect x="607" y="516" width="2" height="1" fill="#6ada6a"/>
<rect x="612" y="516" width="4" height="1" fill="#60d660"/>
<rect x="618" y="516" width="4" height="1" fill="#d56060"/>
<rect x="624" y="515" width="4" height="2" fill="#60d660"/>
<rect x="625" y="516" width="2" height="1" fill="#6ada6a"/>
<rect x="630" y="515" width="4" height="2" fill="#60d660"/>
<rect x="631" y="516" width="2" height="1" fill="#6ada6a"/>
<rect x="636" y="514" width="4" height="3" fill="#60d660"/>
<rect x="637" y="515" width="2" height="2" fill="#6ada6a"/>
<rect x="642" y="513" width="4" height="4" fill="#d56060"/>
<rect x="643" y="514" width="2" height="3" fill="#d96767"/>
<rect x="648" y="510" width="4" height="7" fill="#60d660"/>
<rect x="649" y="511" width="2" height="6" fill="#6ada6a"/>
<rect x="654" y="514" width="4" height="3" fill="#d56060"/>
<rect x="655" y="515" width="2" height="2" fill="#d96767"/>
<rect x="660" y="515" width="4" height="2" fill="#d56060"/>
<rect x="661" y="516" width="2" height="1" fill="#d96767"/>
<rect x="666" y="513" width="4" height="4" fill="#d56060"/>
<rect x="667" y="514" width="2" height="3" fill="#d96767"/>
<rect x="672" y="515" width="4" height="2" fill="#d56060"/>
<rect x="673" y="516" width="2" height="1" fill="#d96767"/>
<rect x="678" y="515" width="4" height="2" fill="#60d660"/>
<rect x="679" y="516" width="2" height="1" fill="#6ada6a"/>
<rect x="684" y="515" width="4" height="2" fill="#60d660"/>
<rect x="685" y="516" width="2" height="1" fill="#6ada6a"/>
<rect x="690" y="515" width="4" height="2" fill="#60d660"/>
<rect x="691" y="516" width="2" height="1" fill="#6ada6a"/>
<rect x="696" y="515" width="4" height="2" fill="#d56060"/>
<rect x="697" y="516" width="2" height="1" fill="#d96767"/>
<rect x="702" y="515" width="4" height="2" fill="#d56060"/>
<rect x="703" y="516" width="2" height="1" fill="#d96767"/>
<rect x="708" y="516" width="4" height="1" fill="#60d660"/>
<rect x="714" y="515" width="4" height="2" fill="#60d660"/>
<rect x="715" y="516" width="2" height="1" fill="#6ada6a"/>
<rect x="720" y="516" width="4" height="1" fill="#d56060"/>
<rect x="726" y="515" width="4" height="2" fill="#d56060"/>
<rect x="727" y="516" width="2" height="1" fill="#d96767"/>
<rect x="732" y="516" width="4" height="1" fill="#60d660"/>
<rect x="738" y="516" width="4" height="1" fill="#60d660"/>
<rect x="744" y="515" width="4" height="2" fill="#d56060"/>
<rect x="745" y="516" width="2" height="1" fill="#d96767"/>
<rect x="750" y="515" width="4" height="2" fill="#60d660"/>
<rect x="751" y="516" width="2" height="1" fill="#6ada6a"/>
<rect x="756" y="513" width="4" height="4" fill="#60d660"/>
<rect x="757" y="514" width="2" height="3" fill="#6ada6a"/>
<rect x="762" y="506" width="4" height="11" fill="#60d660"/>
<rect x="763" y="507" width="2" height="10" fill="#6ada6a"/>
<rect x="768" y="498" width="4" height="19" fill="#60d660"/>
<rect x="769" y="499" width="2" height="18" fill="#6ada6a"/>
<rect x="774" y="492" width="4" height="25" fill="#60d660"/>
<rect x="775" y="493" width="2" height="24" fill="#6ada6a"/>
<rect x="780" y="507" width="4" height="10" fill="#d56060"/>
<rect x="781" y="508" width="2" height="9" fill="#d96767"/>
<rect x="785" y="508" width="4" height="9" fill="#60d660"/>
<rect x="786" y="509" width="2" height="8" fill="#6ada6a"/>
<rect x="791" y="500" width="4" height="17" fill="#60d660"/>
<rect x="792" y="501" width="2" height="16" fill="#6ada6a"/>
<rect x="797" y="500" width="4" height="17" fill="#d56060"/>
<rect x="798" y="501" width="2" height="16" fill="#d96767"/>
<rect x="803" y="504" width="4" height="13" fill="#d56060"/>
<rect x="804" y="505" width="2" height="12" fill="#d96767"/>
<rect x="809" y="508" width="4" height="9" fill="#60d660"/>
<rect x="810" y="509" width="2" height="8" fill="#6ada6a"/>
<rect x="815" y="496" width="4" height="21" fill="#60d660"/>
<rect x="816" y="497" width="2" height="20" fill="#6ada6a"/>
<rect x="821" y="497" width="4" height="20" fill="#60d660"/>
<rect x="822" y="498" width="2" height="19" fill="#6ada6a"/>
<rect x="827" y="497" width="4" height="20" fill="#d56060"/>
<rect x="828" y="498" width="2" height="19" fill="#d96767"/>
<rect x="833" y="507" width="4" height="10" fill="#d56060"/>
<rect x="834" y="508" width="2" height="9" fill="#d96767"/>
<rect x="839" y="511" width="4" height="6" fill="#60d660"/>
<rect x="840" y="512" width="2" height="5" fill="#6ada6a"/>
<rect x="845" y="510" width="4" height="7" fill="#d56060"/>
<rect x="846" y="511" width="2" height="6" fill="#d96767"/>
<rect x="851" y="509" width="4" height="8" fill="#d56060"/>
<rect x="852" y="510" width="2" height="7" fill="#d96767"/>
<rect x="857" y="510" width="4" height="7" fill="#d56060"/>
<rect x="858" y="511" width="2" height="6" fill="#d96767"/>
<rect x="863" y="506" width="4" height="11" fill="#d56060"/>
<rect x="864" y="507" width="2" height="10" fill="#d96767"/>
<rect x="869" y="512" width="4" height="5" fill="#d56060"/>
<rect x="870" y="513" width="2" height="4" fill="#d96767"/>
<rect x="875" y="515" width="4" height="2" fill="#60d660"/>
<rect x="876" y="516" width="2" height="1" fill="#6ada6a"/>
<rect x="881" y="512" width="4" height="5" fill="#d56060"/>
<rect x="882" y="513" width="2" height="4" fill="#d96767"/>
<rect x="887" y="515" width="4" height="2" fill="#d56060"/>
<rect x="888" y="516" width="2" height="1" fill="#d96767"/>
<rect x="893" y="513" width="4" height="4" fill="#d56060"/>
<rect x="894" y="514" width="2" height="3" fill="#d96767"/>
</svg>
<div class="sq" style="left:3px;top:2px;background:#f84444"></div>
<div class="t g" style="left:15px;top:0px;letter-spacing:-0.13px">Polytec Holding (Frankfurt)</div>
<div class="t" style="left:8px;top:389px;color:#999">02.05.06 -</div>
<div class="t" style="left:60px;top:389px;color:#999;letter-spacing:-0.2px">23.10.18</div>
<div class="t" style="left:110px;top:389px;color:#999;letter-spacing:-0.15px">1 Tick = 1 Monat</div>
<div class="xl" style="left:34px">2007</div>
<div class="xl" style="left:105px">2008</div>
<div class="xl" style="left:177px">2009</div>
<div class="xl" style="left:249px">2010</div>
<div class="xl" style="left:320px">2011</div>
<div class="xl" style="left:392px">2012</div>
<div class="xl" style="left:464px">2013</div>
<div class="xl" style="left:536px">2014</div>
<div class="xl" style="left:607px">2015</div>
<div class="xl" style="left:679px">2016</div>
<div class="xl" style="left:751px">2017</div>
<div class="xl" style="left:822px">2018</div>
<div class="yl" style="top:92px">20</div>
<div class="yl" style="top:155px">10</div>
<div class="yl" style="top:217px">5</div>
<div class="yl" style="top:299px">2</div>
<div class="yl" style="top:361px">1</div>
<div class="sq" style="left:3px;top:424px;background:#d96767"></div>
<div class="t g" style="left:15px;top:422px;letter-spacing:-0.21px">Polytec Holding Volumen in Euro</div>
<div class="yl" style="top:431px;letter-spacing:-0.5px">6,0M</div>
<div class="yl" style="top:457px;letter-spacing:-0.5px">4,0M</div>
<div class="yl" style="top:484px;letter-spacing:-0.5px">2,0M</div>
<div class="yl" style="top:510px;letter-spacing:-0.5px">0,0M</div>
</body></html>
